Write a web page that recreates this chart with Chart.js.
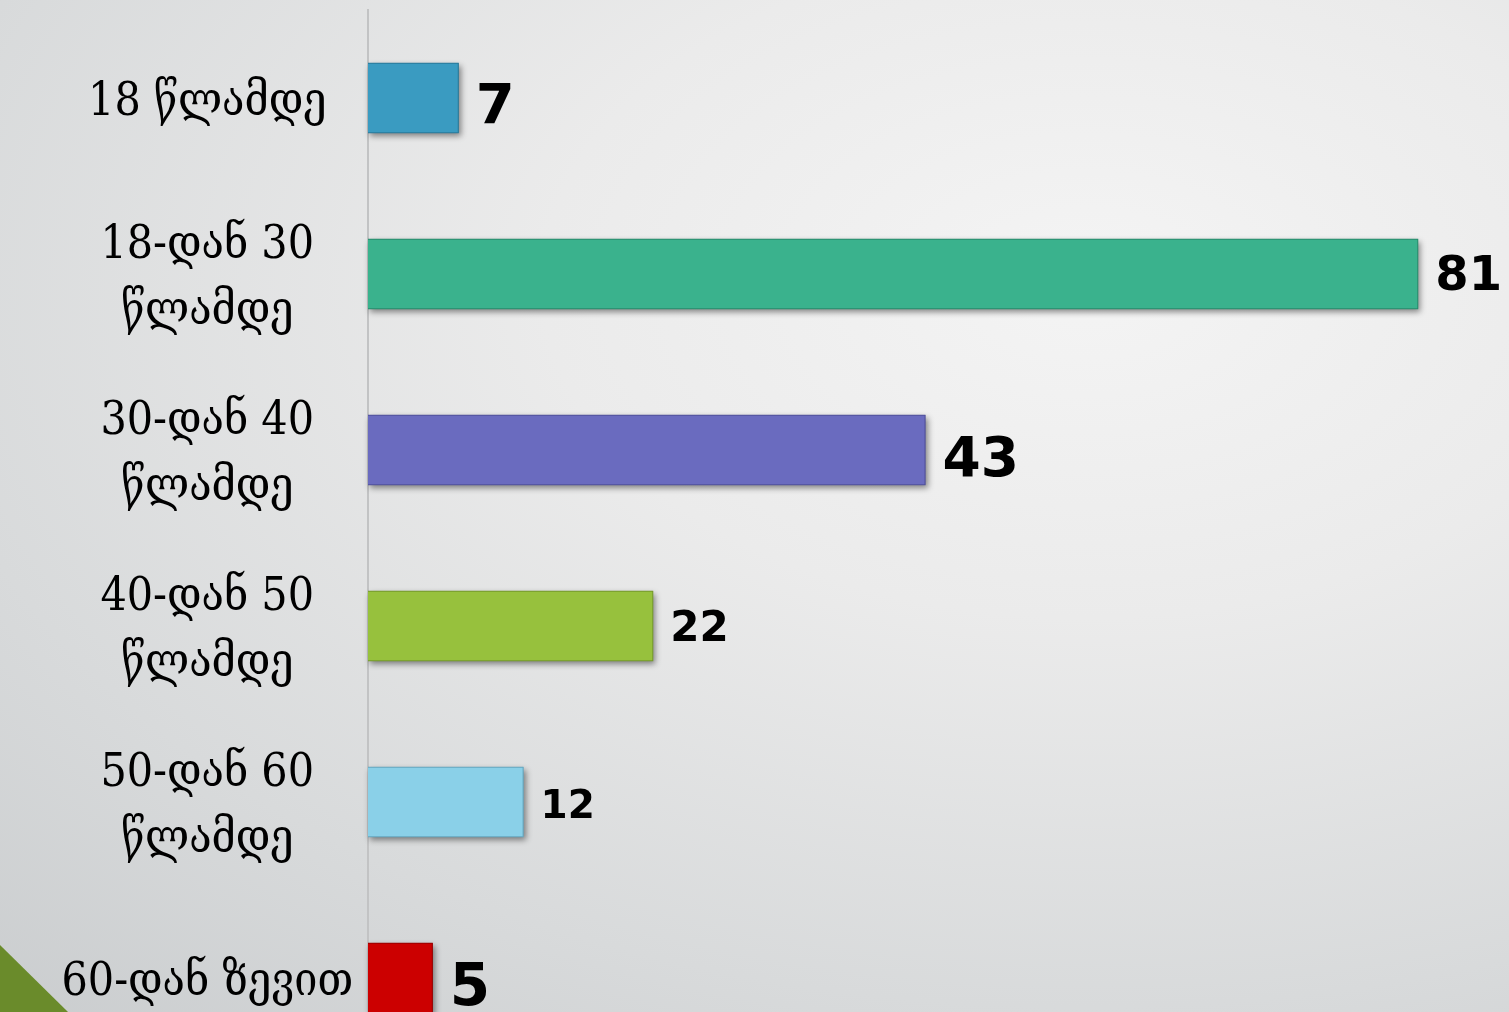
<!DOCTYPE html>
<html>
<head>
<meta charset="utf-8">
<script src="https://cdn.jsdelivr.net/npm/chart.js@4.4.1/dist/chart.umd.min.js"></script>
<style>
  html, body { margin: 0; padding: 0; overflow: hidden; }
  body {
    width: 1509px; height: 1012px; position: relative;
    background: radial-gradient(ellipse 120% 110% at 72% 28%, #f4f4f4 0%, #ebebeb 30%, #d8dadb 65%, #c4c7c9 100%);
  }
  #wrap { position: absolute; left: 0; top: 0; width: 1509px; height: 1066px; }
  #corner {
    position: absolute; left: 0; top: 945px; width: 68px; height: 67px;
    background: #6a8b2b; clip-path: polygon(0 0, 100% 100%, 0 100%);
  }
</style>
</head>
<body>
<div id="corner"></div>
<div id="wrap"><canvas id="chart" width="1509" height="1066"></canvas></div>
<script>
const categories = [
  '18 წლამდე',
  ['18-დან 30', 'წლამდე'],
  ['30-დან 40', 'წლამდე'],
  ['40-დან 50', 'წლამდე'],
  ['50-დან 60', 'წლამდე'],
  '60-დან ზევით'
];
const values = [7, 81, 43, 22, 12, 5];

const barColors = ['#3a9bc1', '#3ab28d', '#6a6bbf', '#97c13d', '#8ad0e8', '#cc0000'];
const barBorders = ['#2b7a99', '#2a8a6c', '#50519a', '#75982c', '#66a7bf', '#990000'];
const labelSizes = [56, 48, 55, 42, 39, 58];
const labelDrop = [10, 4, 12, 4, 6, 12];

const valueLabels = {
  id: 'valueLabels',
  afterDatasetsDraw(chart) {
    const ctx = chart.ctx;
    const meta = chart.getDatasetMeta(0);
    ctx.save();
    ctx.fillStyle = '#000';
    ctx.textAlign = 'left';
    ctx.textBaseline = 'middle';
    meta.data.forEach((bar, i) => {
      ctx.font = 'bold ' + labelSizes[i] + 'px "DejaVu Sans"';
      ctx.fillText(String(values[i]), bar.x + 17, bar.y + labelDrop[i]);
    });
    ctx.restore();
  }
};

// soft drop shadow under each bar, like the original 3D bars
const barShadow = {
  id: 'barShadow',
  beforeDatasetsDraw(chart) {
    const ctx = chart.ctx;
    const meta = chart.getDatasetMeta(0);
    ctx.save();
    ctx.shadowColor = 'rgba(0,0,0,0.45)';
    ctx.shadowBlur = 6;
    ctx.shadowOffsetX = 2;
    ctx.shadowOffsetY = 3;
    meta.data.forEach((bar, i) => {
      const p = bar.getProps(['x', 'y', 'base', 'height'], true);
      ctx.fillStyle = barBorders[i];
      ctx.fillRect(p.base, p.y - p.height / 2, p.x - p.base, p.height);
    });
    ctx.restore();
  }
};

new Chart(document.getElementById('chart'), {
  type: 'bar',
  data: {
    labels: categories,
    datasets: [{
      data: values,
      backgroundColor: barColors,
      borderColor: barBorders,
      borderWidth: 1,
      categoryPercentage: 0.4,
      barPercentage: 1.0,
    }],
  },
  options: {
    indexAxis: 'y',
    responsive: false,
    animation: false,
    layout: { padding: { top: 10, bottom: 0, right: 0, left: 0 } },
    plugins: { legend: { display: false }, tooltip: { enabled: false } },
    scales: {
      x: {
        display: false,
        min: 0,
        max: 88,
      },
      y: {
        afterFit(scale) {
          scale.width = 368;
          scale.paddingTop = 0;
          scale.paddingBottom = 0;
        },
        grid: { display: false, drawTicks: false },
        border: { display: true, color: '#c2c3c4', width: 2 },
        ticks: {
          color: '#000',
          crossAlign: 'center',
          padding: 15,
          labelOffset: 5,
          font: { family: '"DejaVu Serif Condensed", "DejaVu Serif"', size: 46, lineHeight: 1.45 },
        },
      },
    },
  },
  plugins: [barShadow, valueLabels],
});
</script>
</body>
</html>
